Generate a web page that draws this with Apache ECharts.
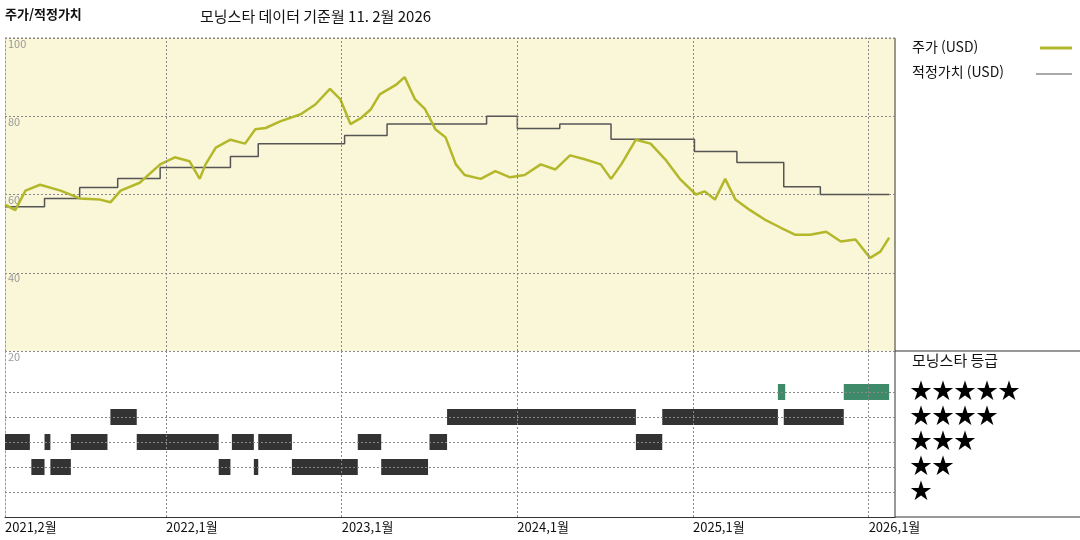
<!DOCTYPE html>
<html lang="ko">
<head>
    <meta charset="UTF-8">
    <title>주가/적정가치</title>
    <script src="https://cdn.jsdelivr.net/npm/echarts@6/dist/echarts.min.js"></script>
    <style type="text/css">
        html, body { margin: 0; height: 100%; background: #fff; }
        #chart { width: 1080px; height: 540px; }
    </style>
</head>
<body>
<div id="chart"></div>
<script type="text/javascript">
    // x values are months since Jan 2021 (2022,1월 = 12)
    var priceT = [1.0,1.7,2.4,3.4,4.8,6.1,7.5,8.2,8.9,10.2,11.6,12.6,13.6,14.3,14.7,15.4,16.4,17.4,18.1,18.8,19.8,21.2,22.2,23.2,23.9,24.6,25.3,26.0,26.6,27.7,28.3,29.0,29.7,30.4,31.1,31.8,32.4,33.5,34.5,35.5,36.5,37.6,38.6,39.6,40.6,41.7,42.4,43.1,44.1,45.1,46.1,47.1,48.2,48.8,49.5,50.2,50.9,51.9,52.9,54.0,55.0,56.0,57.1,58.1,59.1,60.1,60.8,61.4];
    var price = [57.4,56,61,62.5,61,59,58.7,58,61,63,67.7,69.5,68.5,64,67.7,72,74,73,76.7,77,78.7,80.5,83,87,84.4,78,79.5,81.8,85.6,88,90,84.4,81.8,76.7,74.6,67.7,65,64,66,64.4,65,67.7,66.4,70,69,67.7,64,67.7,74,73,69,64,60,60.8,58.7,64,58.7,56,53.6,51.5,49.7,49.7,50.5,48,48.5,43.8,45.4,49];
    var fairT = [1.0,3.7,6.1,8.7,11.6,16.4,18.3,24.2,27.1,33.9,36.0,38.9,42.4,48.1,51.0,54.2,56.7,61.4];
    var fair = [56.9,59,61.8,64.1,66.9,69.7,73,75.1,78,80,76.9,78,74.1,71,68.2,62,60,60];
    // rating periods: [start, end, stars]
    var ratings = [
        [1.0,2.7,3],[2.8,3.7,2],[3.7,4.1,3],[4.1,5.5,2],[5.5,8.0,3],[8.2,10.0,4],
        [10.0,15.6,3],[15.6,16.4,2],[16.5,18.0,3],[18.0,18.3,2],[18.3,20.6,3],
        [20.6,25.1,2],[25.1,26.7,3],[26.7,29.9,2],[30.0,31.2,3],[31.2,44.1,4],
        [44.1,45.9,3],[45.9,53.8,4],[53.8,54.3,5],[54.2,58.3,4],[58.3,61.4,5]
    ];
    var tickMonths = [1, 12, 24, 36, 48, 60];
    var tickLabels = ['2021,2월', '2022,1월', '2023,1월', '2024,1월', '2025,1월', '2026,1월'];
    var starRows = [5, 4, 3, 2, 1];

    var font = '"Noto Sans CJK KR", "Noto Sans", sans-serif';
    var chart = echarts.init(document.getElementById('chart'));

    var priceData = priceT.map(function (t, i) { return [t, price[i]]; });
    var fairData = fairT.map(function (t, i) { return [t, fair[i]]; });
    var vLines = tickMonths.slice(1).map(function (m) { return { xAxis: m }; });
    var dotted = { color: '#888', type: [2, 2], width: 1 };

    var legendGraphics = [
        { type: 'line', shape: { x1: 5, y1: 38, x2: 895, y2: 38 }, style: { stroke: '#888', lineWidth: 1, lineDash: [2, 2] } },
        { type: 'line', shape: { x1: 895, y1: 38, x2: 895, y2: 517 }, style: { stroke: '#333', lineWidth: 1 } },
        { type: 'line', shape: { x1: 895, y1: 351, x2: 1080, y2: 351 }, style: { stroke: '#333', lineWidth: 1 } },
        { type: 'line', shape: { x1: 895, y1: 517, x2: 1080, y2: 517 }, style: { stroke: '#333', lineWidth: 1 } },
        { type: 'text', left: 5, top: 8, style: { text: '주가/적정가치', font: 'bold 13px ' + font, fill: '#111' } },
        { type: 'text', left: 200, top: 9, style: { text: '모닝스타 데이터 기준월 11. 2월 2026', font: '15px ' + font, fill: '#111' } },
        { type: 'text', left: 912, top: 40, style: { text: '주가 (USD)', font: '14px ' + font, fill: '#111' } },
        { type: 'line', shape: { x1: 1040, y1: 48, x2: 1072, y2: 48 }, style: { stroke: '#b3b82a', lineWidth: 3 } },
        { type: 'text', left: 912, top: 65, style: { text: '적정가치 (USD)', font: '14px ' + font, fill: '#111' } },
        { type: 'line', shape: { x1: 1036, y1: 74, x2: 1072, y2: 74 }, style: { stroke: '#555', lineWidth: 1 } },
        { type: 'text', left: 912, top: 353, style: { text: '모닝스타 등급', font: '15px ' + font, fill: '#111' } }
    ];
    starRows.forEach(function (s, i) {
        legendGraphics.push({ type: 'text', left: 910, top: 379 + i * 25,
            style: { text: '★★★★★'.slice(0, s), font: '22px ' + font, fill: '#000' } });
    });

    var option = {
        backgroundColor: '#fff',
        animation: false,
        grid: [
            { left: 5, width: 890, top: 38, height: 313, show: true, backgroundColor: '#faf6d8', borderWidth: 0 },
            { left: 5, width: 890, top: 351, height: 166 }
        ],
        xAxis: [
            { gridIndex: 0, type: 'value', min: 1, max: 61.8, axisLine: { show: false }, axisTick: { show: false },
              axisLabel: { show: false }, splitLine: { show: false } },
            { gridIndex: 1, type: 'value', min: 1, max: 61.8,
              axisLine: { show: true, lineStyle: { color: '#333' } }, axisTick: { show: false },
              splitLine: { show: false },
              axisLabel: { customValues: tickMonths, align: 'left', margin: 4, color: '#111', fontSize: 13, fontFamily: font,
                  formatter: function (v) { return tickLabels[tickMonths.indexOf(v)] || ''; } } }
        ],
        yAxis: [
            { gridIndex: 0, type: 'value', min: 20, max: 100, interval: 20,
              axisLine: { show: true, lineStyle: { color: '#999', type: [2, 2] } }, axisTick: { show: false },
              axisLabel: { inside: true, verticalAlign: 'top', color: '#999', fontSize: 11, fontFamily: font, margin: 3 },
              splitLine: { show: true, lineStyle: dotted } },
            { gridIndex: 1, type: 'value', min: 0, max: 6.64,
              axisLine: { show: true, lineStyle: { color: '#999', type: [2, 2] } }, axisTick: { show: false },
              axisLabel: { show: false }, splitLine: { show: false } }
        ],
        graphic: legendGraphics,
        series: [
            { name: '적정가치 (USD)', type: 'line', xAxisIndex: 0, yAxisIndex: 0, data: fairData, step: 'end',
              symbol: 'none', lineStyle: { color: '#555', width: 1.5 }, z: 3,
              markLine: { silent: true, symbol: 'none', label: { show: false }, lineStyle: dotted, data: vLines } },
            { name: '주가 (USD)', type: 'line', xAxisIndex: 0, yAxisIndex: 0, data: priceData,
              symbol: 'none', lineStyle: { color: '#b3b82a', width: 2.5 }, z: 4 },
            { name: '등급', type: 'custom', xAxisIndex: 1, yAxisIndex: 1, data: ratings,
              encode: { x: [0, 1], y: 2 },
              renderItem: function (params, api) {
                  var p0 = api.coord([api.value(0), api.value(2)]);
                  var p1 = api.coord([api.value(1), api.value(2)]);
                  var five = api.value(2) === 5;
                  return { type: 'rect', shape: { x: p0[0], y: p0[1] - 8, width: p1[0] - p0[0], height: 16 },
                      style: { fill: five ? '#3f8a68' : '#333' } };
              },
              markLine: { silent: true, symbol: 'none', label: { show: false }, lineStyle: dotted,
                  data: vLines.concat(starRows.map(function (s) { return { yAxis: s }; })) } }
        ]
    };
    chart.setOption(option);
</script>
</body>
</html>
